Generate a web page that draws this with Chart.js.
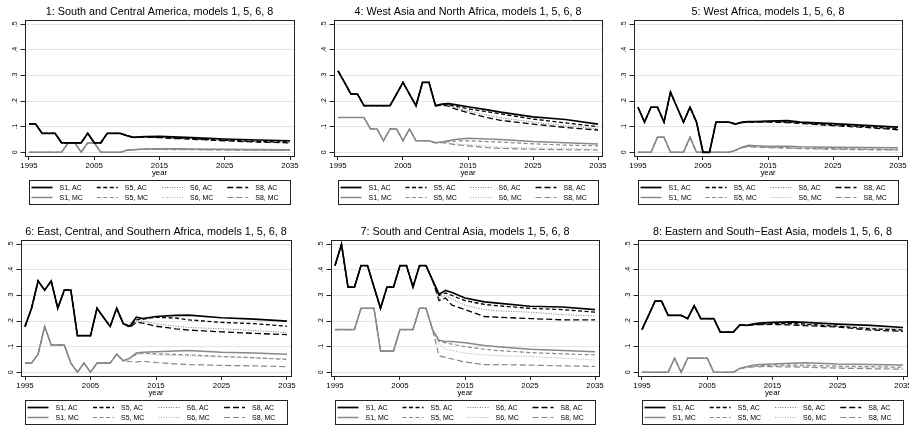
<!DOCTYPE html>
<html>
<head>
<meta charset="utf-8">
<script src="https://cdn.jsdelivr.net/npm/chart.js@4.4.1/dist/chart.umd.min.js"></script>
<style>
  body { margin: 0; background: #fff; width: 909px; height: 427px; overflow: hidden; position: relative; }
  canvas { position: absolute; }
</style>
</head>
<body>
<canvas id="c0" width="303" height="207" style="left:0;top:0"></canvas>
<canvas id="c1" width="303" height="207" style="left:303px;top:0"></canvas>
<canvas id="c2" width="303" height="207" style="left:606px;top:0"></canvas>
<canvas id="c3" width="303" height="207" style="left:0;top:220px"></canvas>
<canvas id="c4" width="303" height="207" style="left:303px;top:220px"></canvas>
<canvas id="c5" width="303" height="207" style="left:606px;top:220px"></canvas>
<script>
// years shared by all panels
const histYears = [1995, 1996, 1997, 1998, 1999, 2000, 2001, 2002, 2003, 2004, 2005, 2006, 2007, 2008, 2009, 2010];
const projYears = [2010, 2011, 2012, 2013, 2015, 2018, 2020, 2025, 2030, 2035];
const xTickYears = [1995, 2005, 2015, 2025, 2035];
const yTickValues = [0, 0.1, 0.2, 0.3, 0.4, 0.5];
const yTickLabels = ['0', '.1', '.2', '.3', '.4', '.5'];
const seriesNames = ['S1, AC', 'S5, AC', 'S6, AC', 'S8, AC', 'S1, MC', 'S5, MC', 'S6, MC', 'S8, MC'];

// 1: South and Central America
const r1HistAC = [.111, .111, .074, .074, .074, .037, .037, .037, .037, .074, .037, .037, .074, .074, .074, .065];
const r1HistMC = [0, 0, 0, 0, 0, 0, .037, .037, 0, .037, .037, 0, 0, 0, 0, .008];
const r1S1AC = [.065, .058, .060, .061, .062, .059, .057, .052, .048, .045];
const r1S5AC = [.065, .058, .059, .060, .059, .055, .053, .047, .042, .040];
const r1S6AC = [.065, .058, .060, .060, .060, .057, .055, .050, .045, .042];
const r1S8AC = [.065, .058, .059, .059, .057, .053, .051, .045, .040, .037];
const r1S1MC = [.008, .010, .012, .013, .014, .014, .013, .012, .011, .010];
const r1S5MC = [.008, .010, .011, .012, .012, .011, .011, .010, .009, .008];
const r1S6MC = [.008, .010, .011, .012, .012, .011, .011, .010, .009, .008];
const r1S8MC = [.008, .010, .011, .011, .011, .010, .010, .009, .008, .007];

// 4: West Asia and North Africa
const r4HistAC = [.318, .273, .227, .227, .182, .182, .182, .182, .182, .227, .273, .227, .182, .273, .273, .182];
const r4HistMC = [.136, .136, .136, .136, .136, .091, .091, .045, .091, .091, .045, .091, .045, .045, .045, .037];
const r4S1AC = [.182, .188, .190, .186, .178, .166, .157, .138, .128, .110];
const r4S5AC = [.182, .186, .185, .180, .170, .158, .150, .130, .115, .100];
const r4S6AC = [.182, .184, .182, .174, .162, .145, .135, .118, .104, .092];
const r4S8AC = [.182, .184, .180, .170, .155, .135, .125, .110, .097, .087];
const r4S1MC = [.037, .040, .045, .050, .055, .052, .050, .042, .037, .032];
const r4S5MC = [.037, .040, .042, .044, .045, .042, .040, .033, .028, .025];
const r4S6MC = [.037, .038, .036, .033, .030, .024, .020, .017, .015, .012];
const r4S8MC = [.037, .038, .034, .030, .025, .018, .015, .012, .010, .009];

// 5: West Africa
const r5HistAC = [.176, .118, .176, .176, .118, .235, .176, .118, .176, .118, 0, 0, .118, .118, .118, .110];
const r5HistMC = [0, 0, 0, .059, .059, 0, 0, 0, .059, 0, 0, 0, 0, 0, 0, .008];
const r5S1AC = [.110, .118, .120, .120, .122, .124, .118, .112, .105, .098];
const r5S5AC = [.110, .117, .118, .119, .120, .118, .115, .107, .100, .092];
const r5S6AC = [.110, .117, .118, .119, .120, .119, .116, .108, .101, .095];
const r5S8AC = [.110, .116, .117, .118, .118, .116, .113, .104, .097, .088];
const r5S1MC = [.008, .020, .027, .026, .024, .024, .022, .020, .019, .018];
const r5S5MC = [.008, .018, .024, .022, .020, .018, .016, .014, .012, .010];
const r5S6MC = [.008, .018, .024, .022, .020, .018, .017, .016, .014, .013];
const r5S8MC = [.008, .018, .022, .020, .018, .016, .014, .012, .010, .009];

// 6: East, Central, and Southern Africa
const r6HistAC = [.179, .250, .357, .321, .357, .250, .321, .321, .143, .143, .143, .250, .214, .179, .250, .190];
const r6HistMC = [.036, .036, .071, .179, .107, .107, .107, .036, 0, .036, 0, .036, .036, .036, .071, .045];
const r6S1AC = [.190, .180, .215, .210, .218, .222, .223, .213, .208, .200];
const r6S5AC = [.190, .180, .205, .208, .215, .212, .205, .195, .190, .180];
const r6S6AC = [.190, .178, .198, .200, .190, .180, .175, .170, .163, .155];
const r6S8AC = [.190, .175, .195, .192, .180, .170, .165, .158, .152, .147];
const r6S1MC = [.045, .055, .075, .078, .080, .083, .085, .078, .075, .070];
const r6S5MC = [.045, .055, .072, .076, .072, .070, .068, .062, .057, .050];
const r6S6MC = [.045, .053, .068, .072, .068, .066, .064, .060, .056, .052];
const r6S8MC = [.045, .042, .040, .043, .038, .033, .030, .027, .025, .022];

// 7: South and Central Asia
const r7HistAC = [.417, .500, .333, .333, .417, .417, .333, .250, .333, .333, .417, .417, .333, .417, .417, .360];
const r7HistMC = [.167, .167, .167, .167, .250, .250, .250, .083, .083, .083, .167, .167, .167, .250, .250, .167];
const r7S1AC = [.360, .305, .320, .312, .290, .275, .270, .258, .255, .245];
const r7S5AC = [.360, .300, .310, .300, .280, .265, .260, .250, .245, .235];
const r7S6AC = [.360, .290, .300, .285, .262, .245, .240, .235, .225, .220];
const r7S8AC = [.360, .280, .290, .262, .245, .218, .215, .210, .205, .205];
const r7S1MC = [.167, .125, .120, .120, .115, .105, .100, .090, .085, .080];
const r7S5MC = [.167, .120, .115, .110, .100, .090, .085, .077, .072, .068];
const r7S6MC = [.167, .110, .090, .085, .075, .068, .065, .062, .055, .048];
const r7S8MC = [.167, .065, .058, .052, .040, .030, .030, .028, .025, .023];

// 8: Eastern and South-East Asia
const r8HistAC = [.167, .222, .278, .278, .222, .222, .222, .210, .260, .210, .210, .210, .157, .157, .157, .185];
const r8HistMC = [0, 0, 0, 0, 0, .055, 0, .055, .055, .055, .055, 0, 0, 0, 0, .015];
const r8S1AC = [.185, .183, .188, .192, .195, .197, .195, .188, .183, .175];
const r8S5AC = [.185, .183, .186, .188, .190, .190, .188, .180, .170, .165];
const r8S6AC = [.185, .183, .186, .188, .190, .189, .187, .181, .173, .170];
const r8S8AC = [.185, .183, .185, .186, .187, .185, .182, .177, .165, .160];
const r8S1MC = [.015, .022, .028, .030, .032, .035, .037, .032, .030, .028];
const r8S5MC = [.015, .020, .024, .025, .028, .028, .028, .024, .022, .020];
const r8S6MC = [.015, .020, .023, .024, .025, .024, .022, .020, .018, .016];
const r8S8MC = [.015, .019, .021, .022, .022, .021, .020, .016, .014, .012];

// line look per series (S1, S5, S6, S8 for AC then MC)
const lineStyles = [
  { color: '#000', width: 1.7, dash: [] },
  { color: '#000', width: 1.3, dash: [4, 2.5] },
  { color: '#777', width: 1, dash: [1, 1.5] },
  { color: '#000', width: 1.3, dash: [6, 3] },
  { color: '#888', width: 1.5, dash: [] },
  { color: '#888', width: 1.2, dash: [4, 2.5] },
  { color: '#aaa', width: 1, dash: [1, 1.5] },
  { color: '#888', width: 1.2, dash: [6, 3] }
];

const panels = [
  { id: 'c0', title: '1: South and Central America, models 1, 5, 6, 8', histAC: r1HistAC, histMC: r1HistMC,
    proj: [r1S1AC, r1S5AC, r1S6AC, r1S8AC, r1S1MC, r1S5MC, r1S6MC, r1S8MC], x0: 29, x1: 290 },
  { id: 'c1', title: '4: West Asia and North Africa, models 1, 5, 6, 8', histAC: r4HistAC, histMC: r4HistMC,
    proj: [r4S1AC, r4S5AC, r4S6AC, r4S8AC, r4S1MC, r4S5MC, r4S6MC, r4S8MC], x0: 35, x1: 295 },
  { id: 'c2', title: '5: West Africa, models 1, 5, 6, 8', histAC: r5HistAC, histMC: r5HistMC,
    proj: [r5S1AC, r5S5AC, r5S6AC, r5S8AC, r5S1MC, r5S5MC, r5S6MC, r5S8MC], x0: 32, x1: 292 },
  { id: 'c3', title: '6: East, Central, and Southern Africa, models 1, 5, 6, 8', histAC: r6HistAC, histMC: r6HistMC,
    proj: [r6S1AC, r6S5AC, r6S6AC, r6S8AC, r6S1MC, r6S5MC, r6S6MC, r6S8MC], x0: 25, x1: 287 },
  { id: 'c4', title: '7: South and Central Asia, models 1, 5, 6, 8', histAC: r7HistAC, histMC: r7HistMC,
    proj: [r7S1AC, r7S5AC, r7S6AC, r7S8AC, r7S1MC, r7S5MC, r7S6MC, r7S8MC], x0: 32, x1: 292 },
  { id: 'c5', title: '8: Eastern and South\u2212East Asia, models 1, 5, 6, 8', histAC: r8HistAC, histMC: r8HistMC,
    proj: [r8S1AC, r8S5AC, r8S6AC, r8S8AC, r8S1MC, r8S5MC, r8S6MC, r8S8MC], x0: 36, x1: 297 }
];

const FONT = '"Liberation Sans", Arial, sans-serif';
const FRAME_TOP = 20, FRAME_BOTTOM = 157, XAXIS_H = 22, MARGIN = 4.5;

// title, frame, rotated y labels and legend box
const panelDecor = {
  id: 'panelDecor',
  afterDraw(chart, args, opts) {
    const { ctx, chartArea: a, scales: { y } } = chart;
    ctx.save();
    ctx.fillStyle = '#000';
    ctx.font = '10.8px ' + FONT;
    ctx.textAlign = 'center';
    ctx.textBaseline = 'middle';
    ctx.fillText(opts.title, (a.left + a.right) / 2, 12.5);

    ctx.strokeStyle = '#222';
    ctx.lineWidth = 1;
    const L = Math.round(a.left) + 0.5, T = Math.round(a.top) + 0.5;
    const R = Math.round(a.right) - 0.5, B = Math.round(a.bottom) - 0.5;
    ctx.strokeRect(L, T, R - L, B - T);

    ctx.font = '7px ' + FONT;
    yTickValues.forEach((v, i) => {
      ctx.save();
      ctx.translate(a.left - 9, y.getPixelForValue(v));
      ctx.rotate(-Math.PI / 2);
      ctx.fillText(yTickLabels[i], 0, 0);
      ctx.restore();
    });

    // legend
    const bx = Math.round(opts.x0) + 0.5, bw = Math.round(opts.x1 - opts.x0);
    const by = 180.5, bh = 24;
    ctx.strokeRect(bx, by, bw, bh);
    ctx.font = '7px ' + FONT;
    ctx.textAlign = 'left';
    const colW = bw / 4;
    chart.data.datasets.forEach((ds, k) => {
      const col = k % 4, row = Math.floor(k / 4);
      const lx = bx + 2 + col * colW;
      const ly = by + 7 + row * 10;
      ctx.save();
      ctx.strokeStyle = ds.borderColor;
      ctx.lineWidth = ds.borderWidth;
      ctx.setLineDash(ds.borderDash);
      ctx.beginPath();
      ctx.moveTo(lx, ly);
      ctx.lineTo(lx + 21, ly);
      ctx.stroke();
      ctx.restore();
      ctx.fillText(ds.label, lx + 28, ly + 0.5);
    });
    ctx.restore();
  }
};

panels.forEach(p => {
  const canvas = document.getElementById(p.id);
  const H = canvas.height, W = canvas.width;
  const pxPerYear = (p.x1 - p.x0) / 40;
  const datasets = seriesNames.map((name, k) => {
    const hist = k < 4 ? p.histAC : p.histMC;
    const proj = p.proj[k];
    const pts = histYears.map((yr, i) => ({ x: yr, y: hist[i] }))
      .concat(projYears.slice(1).map((yr, i) => ({ x: yr, y: proj[i + 1] })));
    const st = lineStyles[k];
    return {
      label: name,
      data: pts,
      borderColor: st.color,
      borderWidth: st.width,
      borderDash: st.dash,
      pointRadius: 0,
      tension: 0,
      fill: false
    };
  });

  new Chart(canvas, {
    type: 'line',
    data: { datasets },
    options: {
      responsive: false,
      animation: false,
      events: [],
      layout: {
        padding: {
          left: p.x0 - MARGIN,
          right: W - (p.x1 + MARGIN),
          top: FRAME_TOP,
          bottom: H - FRAME_BOTTOM - XAXIS_H
        }
      },
      plugins: {
        legend: { display: false },
        tooltip: { enabled: false },
        panelDecor: { title: p.title, x0: p.x0, x1: p.x1 }
      },
      scales: {
        x: {
          type: 'linear',
          min: 1995 - MARGIN / pxPerYear,
          max: 2035 + MARGIN / pxPerYear,
          afterBuildTicks: s => { s.ticks = xTickYears.map(v => ({ value: v })); },
          afterFit: s => { s.height = XAXIS_H; s.paddingLeft = 0; s.paddingRight = 0; },
          border: { display: false },
          grid: { drawOnChartArea: false, tickLength: 3, tickColor: '#222' },
          ticks: {
            color: '#000', font: { family: FONT, size: 7.8 }, padding: 1,
            maxRotation: 0, autoSkip: false, callback: v => String(v)
          },
          title: { display: true, text: 'year', color: '#000', font: { family: FONT, size: 7.8 }, padding: { top: 0, bottom: 1.5 } }
        },
        y: {
          min: -0.0184,
          max: 0.5168,
          afterBuildTicks: s => { s.ticks = yTickValues.map(v => ({ value: v })); },
          afterFit: s => { s.width = 0; },
          border: { display: false },
          grid: { color: '#e4e4e4', lineWidth: 1, tickLength: 4, tickColor: '#222' },
          ticks: { display: false }
        }
      }
    },
    plugins: [panelDecor]
  });
});
</script>
</body>
</html>
